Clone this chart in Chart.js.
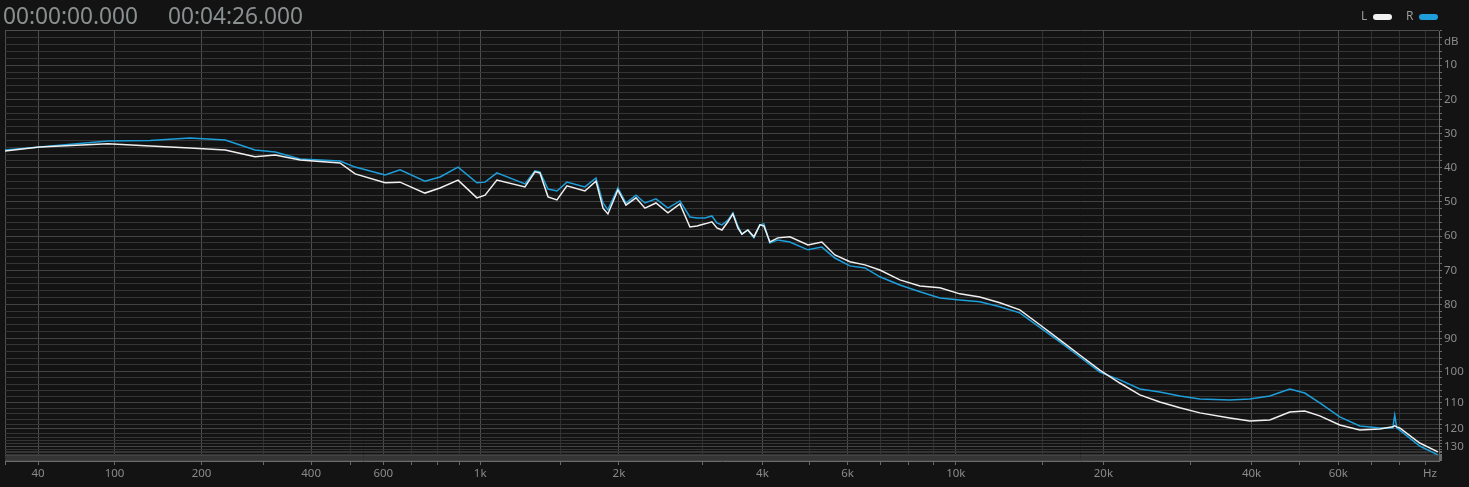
<!DOCTYPE html>
<html lang="en">
<head>
  <meta charset="UTF-8" />
  <title>Spectrum</title>
  <script src="https://cdn.jsdelivr.net/npm/chart.js"></script>
  <style>
    body { margin: 0; background-color: #131313; overflow: hidden; }
    #wrap { position: relative; width: 1469px; height: 487px; }
    #spec { position: absolute; left: 0; top: 0; }
    .time { position: absolute; top: 0; line-height: 30px; font: 22.7px 'Noto Sans', sans-serif; color: #8a9090; }
    .leg { position: absolute; top: 8px; font: 12px 'Noto Sans', sans-serif; color: #9a9a9a; line-height: 16px; }
    .pill { position: absolute; top: 14px; width: 19px; height: 6px; border-radius: 3px; }
  </style>
</head>
<body>
  <div id="wrap">
    <canvas id="spec" width="1469" height="487"></canvas>
    <div class="time" style="left:3px">00:00:00.000</div>
    <div class="time" style="left:168px">00:04:26.000</div>
    <div class="leg" style="left:1361px">L</div>
    <div class="pill" style="left:1373px; background:#f2f2f2"></div>
    <div class="leg" style="left:1406px">R</div>
    <div class="pill" style="left:1419px; background:#1e9fdb"></div>
  </div>

<script>
  // frequency (Hz) and level (dB below full scale)
  const freqs = [20, 41, 94, 136, 184, 235, 285, 323, 375, 472, 514, 606, 657, 750, 812, 892, 983, 1025,
    1089, 1255, 1320, 1353, 1409, 1473, 1548, 1692, 1787, 1850, 1895, 1990, 2070, 2174, 2271, 2396,
    2539, 2691, 2824, 2922, 3037, 3140, 3216, 3295, 3391, 3473, 3557, 3626, 3731, 3840, 3952, 4028,
    4145, 4306, 4560, 4969, 5310, 5647, 6065,
    6512, 6989, 7683, 8444, 9278, 10194, 11198, 12303, 13514, 14844, 16306, 17907, 19670, 21600,
    23721, 26050, 28609, 31412, 36136, 39675, 43565, 47837, 51292, 55014, 60406, 66330, 72830,
    77360, 78080, 78830, 79920, 87740, 95500];
  const dbL = [35.1, 33.9, 33.0, 33.6, 34.2, 34.8, 36.8, 36.3, 37.7, 38.6, 41.8, 44.4, 44.2, 47.4, 45.9, 43.6, 48.8, 48.0,
    43.6, 45.6, 41.2, 41.5, 48.5, 49.4, 45.3, 46.8, 43.9, 51.8, 53.5, 46.5, 50.9, 48.8, 51.8, 50.3,
    53.2, 50.6, 57.3, 57.0, 56.4, 55.8, 57.6, 58.2, 55.8, 53.5, 57.6, 59.4, 58.2, 60.2, 56.7, 57.0,
    61.7, 60.5, 60.2, 62.6, 61.7, 65.5, 67.5,
    68.4, 69.9, 72.8, 74.6, 75.1, 76.9, 77.8, 79.5, 81.6, 86.0, 90.5, 95.0, 99.6, 103.6,
    107.4, 109.8, 111.8, 113.6, 115.5, 116.7, 116.3, 113.3, 112.9, 114.7, 118.3, 120.5, 120.0,
    119.1, 118.7, 119.1, 119.6, 127.4, 134.8];
  const dbR = [34.8, 33.9, 32.2, 32.0, 31.3, 31.9, 34.8, 35.4, 37.4, 38.0, 39.8, 42.1, 40.6, 43.9, 42.7, 39.8, 44.4, 44.2,
    41.5, 44.7, 40.9, 41.2, 46.2, 46.8, 44.2, 45.6, 43.0, 50.3, 52.3, 45.9, 50.3, 48.0, 50.3, 49.1,
    51.8, 49.7, 54.4, 54.7, 54.7, 54.1, 56.1, 56.7, 55.3, 53.2, 57.0, 59.4, 58.2, 60.5, 56.7, 56.4,
    62.0, 61.1, 61.7, 64.0, 63.2, 66.4, 68.7,
    69.3, 71.9, 74.3, 76.3, 78.1, 78.7, 79.2, 80.7, 82.5, 86.8, 91.1, 95.6, 100.2, 102.6,
    105.5, 106.5, 107.8, 108.8, 109.1, 108.8, 107.8, 105.5, 106.8, 110.1, 115.1, 118.7, 119.6,
    119.6, 114.4, 119.6, 120.5, 129.5, 138.8];

  // axis ticks
  const xTickHz = [20, 40, 100, 200, 300, 400, 500, 600, 700, 800, 900, 1000, 1500, 2000, 3000, 4000, 5000,
    6000, 7000, 8000, 9000, 10000, 15000, 20000, 30000, 40000, 50000, 60000, 70000, 80000, 90000, 92000];
  const xTickText = ['', '40', '100', '200', '', '400', '', '600', '', '', '', '1k', '', '2k', '', '4k', '',
    '6k', '', '', '', '10k', '', '20k', '', '40k', '', '60k', '', '', '', 'Hz'];
  const yTickDb = [0, 3.2];
  const yTickText = ['', 'dB'];
  for (let d = 2; d <= 160; d += 2) {
    yTickDb.push(d);
    yTickText.push(d % 10 === 0 && d <= 130 ? String(d) : '');
  }

  // display mapping: log(f + 100) across, amplitude with a floor down
  const EPS = Math.pow(10, -125.7 / 20);
  const xOf = f => Math.log10(f + 100);
  const yOf = db => -20 * Math.log10(Math.pow(10, -db / 20) + EPS);

  const series = (vals) => freqs.map((f, i) => ({ x: xOf(f), y: yOf(vals[i]) }));

  const labelFont = { family: "'Noto Sans', sans-serif", size: 11.5 };

  new Chart(document.getElementById('spec'), {
    type: 'line',
    data: {
      datasets: [
        { label: 'L', data: series(dbL), borderColor: '#f0f0f0', borderWidth: 1.5, pointRadius: 0, tension: 0 },
        { label: 'R', data: series(dbR), borderColor: '#1e9fdb', borderWidth: 1.5, pointRadius: 0, tension: 0 }
      ]
    },
    options: {
      responsive: false,
      animation: false,
      layout: { padding: { top: 31, left: 5, right: 0, bottom: 0 } },
      plugins: { legend: { display: false }, tooltip: { enabled: false } },
      scales: {
        x: {
          type: 'linear',
          position: 'bottom',
          min: xOf(20),
          max: xOf(96000),
          afterBuildTicks: s => { s.ticks = xTickHz.map(f => ({ value: xOf(f) })); },
          afterFit: s => { s.height = 26; },
          border: { color: '#6a6a6a' },
          grid: {
            color: c => {
              const t = xTickText[c.index];
              if (t === 'Hz') return 'rgba(0,0,0,0)';
              return (t || c.index === 0) ? '#4e4e4e' : '#303030';
            },
            tickColor: c => xTickText[c.index] === 'Hz' ? 'rgba(0,0,0,0)' : '#6a6a6a',
            tickLength: 4
          },
          ticks: {
            autoSkip: false,
            maxRotation: 0,
            padding: 2,
            color: '#8a8a8a',
            font: labelFont,
            callback: (v, i) => xTickText[i]
          }
        },
        y: {
          type: 'linear',
          position: 'right',
          reverse: true,
          min: 0,
          max: yOf(Infinity) + 0.05,
          afterBuildTicks: s => { s.ticks = yTickDb.map(d => ({ value: yOf(d) })); },
          afterFit: s => { s.width = 30; },
          border: { color: '#6a6a6a' },
          grid: {
            color: c => {
              const d = yTickDb[c.index];
              if (yTickText[c.index] === 'dB') return 'rgba(0,0,0,0)';
              if (d === 0) return '#4e4e4e';
              return d % 10 === 0 ? '#434343' : '#353535';
            },
            tickColor: c => yTickText[c.index] === 'dB' ? 'rgba(0,0,0,0)' : '#6a6a6a',
            tickLength: 3
          },
          ticks: {
            autoSkip: false,
            padding: 2,
            color: '#8a8a8a',
            font: labelFont,
            callback: (v, i) => yTickText[i]
          }
        }
      }
    }
  });
</script>
</body>
</html>
